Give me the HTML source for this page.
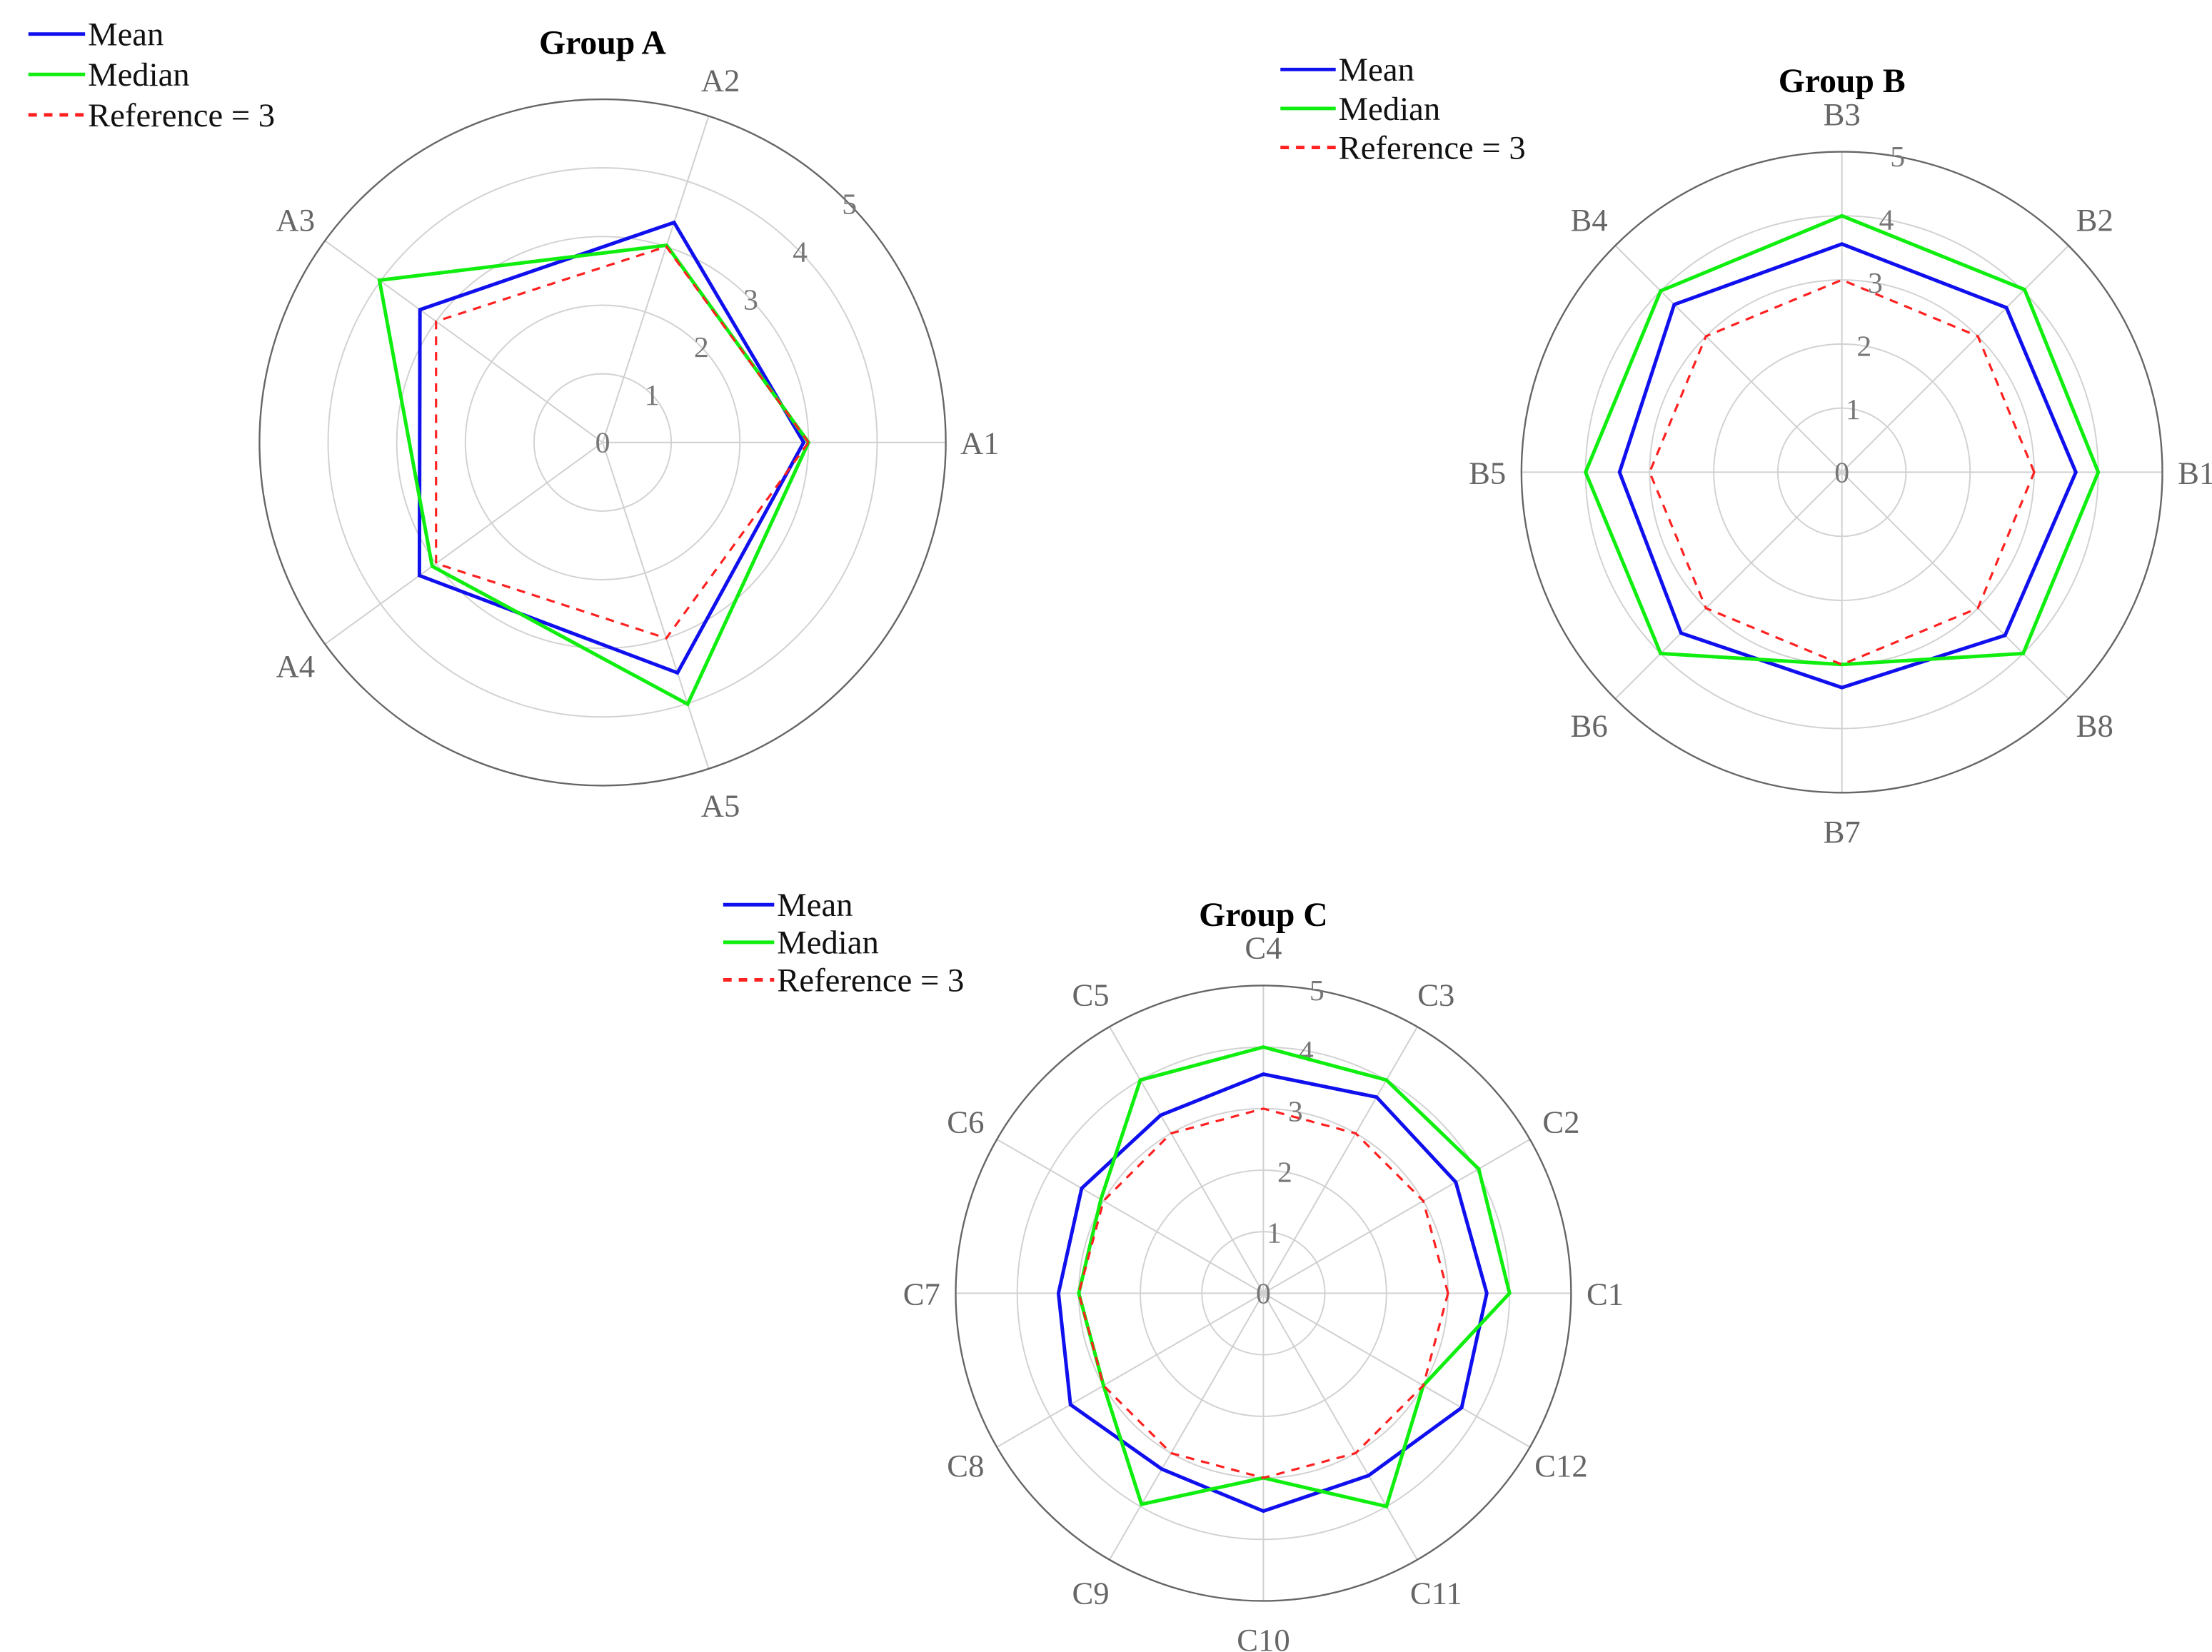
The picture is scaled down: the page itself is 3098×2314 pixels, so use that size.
<!DOCTYPE html>
<html><head><meta charset="utf-8"><style>
html,body{margin:0;padding:0;background:#fff;}
svg{display:block;font-family:"Liberation Serif",serif;}
</style></head><body>
<svg id="fig" width="3098" height="2314" viewBox="0 0 1560 1165" preserveAspectRatio="none" xmlns="http://www.w3.org/2000/svg"></svg>
<script>
const aCats = ["A1","A2","A3","A4","A5"];
const aMean = [2.93,3.37,3.29,3.3,3.53];
const aMedian = [3.0,3.02,4.02,3.07,4.01];
const aRef = [3,3,3,3,3];
const bCats = ["B1","B2","B3","B4","B5","B6","B7","B8"];
const bMean = [3.65,3.63,3.56,3.7,3.47,3.55,3.36,3.6];
const bMedian = [4.0,4.03,4.0,4.0,4.0,4.0,3.0,4.0];
const bRef = [3,3,3,3,3,3,3,3];
const cCats = ["C1","C2","C3","C4","C5","C6","C7","C8","C9","C10","C11","C12"];
const cMean = [3.63,3.61,3.68,3.56,3.34,3.41,3.33,3.62,3.3,3.54,3.42,3.72];
const cMedian = [4.0,4.04,4.0,4.0,4.0,3.05,3.0,3.0,3.96,3.0,4.0,3.0];
const cRef = [3,3,3,3,3,3,3,3,3,3,3,3];
const rTicks = [0,1,2,3,4,5];
const legendLabels = ["Mean","Median","Reference = 3"];

const NS="http://www.w3.org/2000/svg";
const svg=document.getElementById('fig');
function mk(tag,attrs,parent){const e=document.createElementNS(NS,tag);for(const k in attrs)e.setAttribute(k,attrs[k]);(parent||svg).appendChild(e);return e;}

function radar(name,cx,cy,R,cats,series,tickAng,title,titleY,leg){
  const g=mk('g',{});
  
  
  const rmax=5, n=cats.length;
  const rs=v=>v/rmax*R;
  const ang=i=>i*2*Math.PI/n;
  const pt=(i,v)=>[cx+rs(v)*Math.cos(ang(i)), cy-rs(v)*Math.sin(ang(i))];
  for(const t of rTicks){ if(t===0||t===5) continue;
    const c=mk('circle',{cx:cx,cy:cy,r:rs(t),fill:'none',stroke:'#d2d2d2','stroke-width':1},g);
    
    
  }
  for(let i=0;i<n;i++){const p=pt(i,rmax);
    const l=mk('line',{x1:cx,y1:cy,x2:p[0],y2:p[1],stroke:'#d0d0d0','stroke-width':1},g);
    
    
  }
  const oc=mk('circle',{cx:cx,cy:cy,r:R,fill:'none',stroke:'#666','stroke-width':1.2},g);
  
  
  const ta=tickAng*Math.PI/180;
  for(const t of rTicks){
    const tx=mk('text',{x:cx+rs(t)*Math.cos(ta),y:cy-rs(t)*Math.sin(ta)+7,'font-size':21,fill:'#777','text-anchor':'middle'},g);
    tx.textContent=t;
    
    
  }
  for(let i=0;i<n;i++){
    const a=ang(i);
    const d=R+24+3*Math.abs(Math.sin(a));
    const x=cx+d*Math.cos(a), y=cy-d*Math.sin(a);
    const tx=mk('text',{x:x,y:y+8,'font-size':22.5,fill:'#666','text-anchor':'middle'},g);
    tx.textContent=cats[i];
    
    
  }
  const styles=[{c:'#1010ee',d:''},{c:'#10ee10',d:''},{c:'#ff2020',d:'6,5'}];
  series.forEach((s,k)=>{
    const pts=s.map((v,i)=>pt(i,v).join(',')).join(' ');
    const pg=mk('polygon',{points:pts,fill:'none',stroke:styles[k].c,'stroke-width':k==2?1.6:2.5,'stroke-dasharray':styles[k].d},g);
    
    
  });
  const tt=mk('text',{x:cx,y:titleY,'font-size':24,'font-weight':'bold','text-anchor':'middle',fill:'#000'},g);
  tt.textContent=title;
  
  
  legendLabels.forEach((lab,k)=>{
    const y=leg.y+k*leg.dy;
    const ln=mk('line',{x1:leg.x,y1:y,x2:leg.x+leg.w,y2:y,stroke:styles[k].c,'stroke-width':2.5,'stroke-dasharray':styles[k].d?'6,5':''},g);
    
    
    const tx=mk('text',{x:leg.x+leg.w+2,y:y+8,'font-size':23.5,fill:'#111'},g);
    tx.textContent=lab;
    
    
  });
}
radar('group-a-radar',425,312,242,aCats,[aMean,aMedian,aRef],44,'Group A',38,{x:20,y:24,dy:28.5,w:40});
radar('group-b-radar',1299,333,226,bCats,[bMean,bMedian,bRef],80,'Group B',65,{x:903,y:49,dy:27.5,w:39});
radar('group-c-radar',891,912,217,cCats,[cMean,cMedian,cRef],80,'Group C',653,{x:510,y:638,dy:26.5,w:36});
</script>
</body></html>
